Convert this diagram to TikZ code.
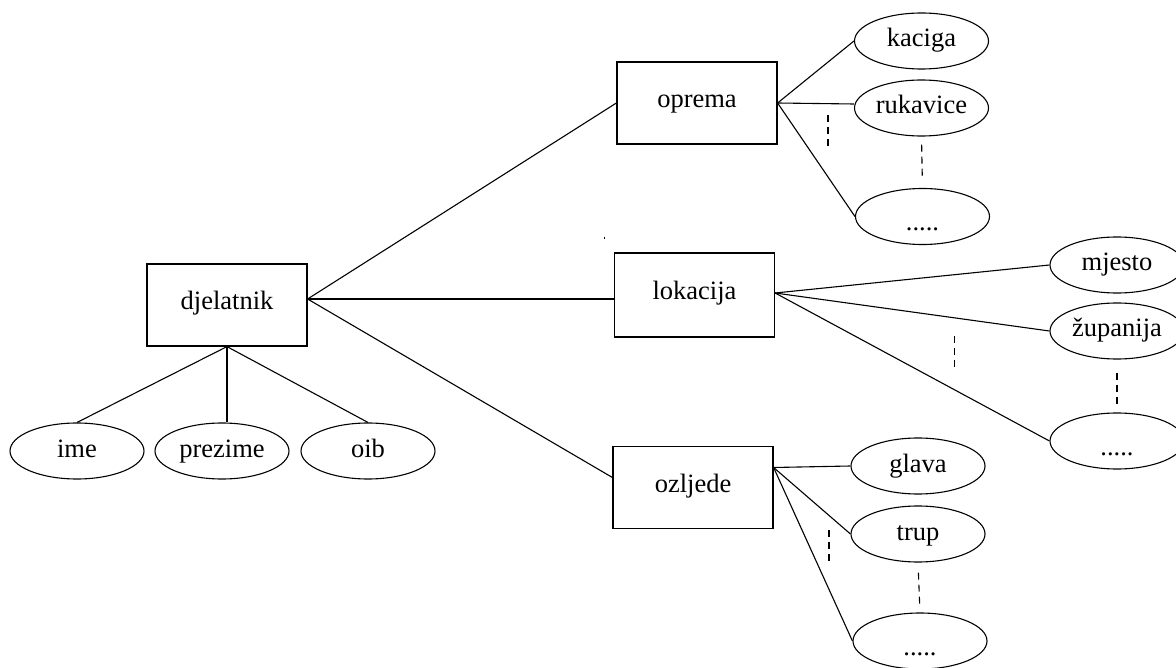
\documentclass[tikz,border=0pt]{standalone}
\usepackage{fontspec}
\setmainfont{Liberation Serif}
\usetikzlibrary{shapes.geometric}
\begin{document}
\begin{tikzpicture}[x=1pt,y=-1pt,
  every node/.style={font=\fontsize{26.5}{30}\selectfont},
  ent/.style={draw, line width=1.2pt, rectangle, minimum width=160pt, minimum height=82pt, inner sep=0pt, text height=18pt, text depth=8pt},
  attr/.style={draw, line width=1.1pt, ellipse, minimum width=134pt, minimum height=56pt, inner sep=0pt, text height=18pt, text depth=6pt},
  more/.style={attr, text height=30pt, text depth=2pt},
  link/.style={line width=1.1pt},
  gap/.style={line width=1.1pt, dash pattern=on 7pt off 5pt}]
\fill[white] (0,0) rectangle (1176,668);
\useasboundingbox (0,0) rectangle (1176,668);

% entities
\node[ent] (djelatnik) at (227,305) {djelatnik};
\node[ent] (oprema) at (697,103) {oprema};
\node[ent, minimum height=84pt] (lokacija) at (694.5,295) {lokacija};
\node[ent] (ozljede) at (693,487.5) {ozljede};

% attributes
\node[attr] (kaciga) at (921.5,41) {kaciga};
\node[attr] (rukavice) at (921.5,108) {rukavice};
\node[more] (dots1) at (922.5,216.5) {.....};
\node[attr] (mjesto) at (1117,265) {mjesto};
\node[attr] (zupanija) at (1117,331) {županija};
\node[more] (dots2) at (1117,441) {.....};
\node[attr] (glava) at (918,466) {glava};
\node[attr] (trup) at (918,534) {trup};
\node[more] (dots3) at (920,641) {.....};
\node[attr] (ime) at (77,451) {ime};
\node[attr] (prezime) at (222,451) {prezime};
\node[attr] (oib) at (368,451) {oib};

% connectors
\draw[link] ([yshift=6pt]djelatnik.east) -- (oprema.west);
\draw[link] ([yshift=6pt]djelatnik.east) -- ([yshift=-4pt]lokacija.west);
\draw[link] ([yshift=6pt]djelatnik.east) -- ([yshift=10pt]ozljede.west);

\draw[link] (djelatnik.south) -- (ime.north);
\draw[link] (djelatnik.south) -- (djelatnik.south |- prezime.north);
\draw[link] (djelatnik.south) -- (oib.north);

\draw[link] (oprema.east) -- (kaciga.west);
\draw[link] (oprema.east) -- ([yshift=4pt]rukavice.west);
\draw[link] (oprema.east) -- (dots1.west);

\draw[link] ([yshift=2pt]lokacija.east) -- (mjesto.west);
\draw[link] ([yshift=2pt]lokacija.east) -- (zupanija.west);
\draw[link] ([yshift=2pt]lokacija.east) -- (dots2.west);

\draw[link] ([yshift=20pt]ozljede.east) -- (glava.west);
\draw[link] ([yshift=20pt]ozljede.east) -- (trup.west);
\draw[link] ([yshift=20pt]ozljede.east) -- (dots3.west);

% dashed continuation marks
\coordinate (g1a) at (828,115);
\coordinate (g1b) at (828,147);
\draw[gap] (g1a) -- (g1b);
\draw[gap, shorten <=8pt, shorten >=10pt] (rukavice.south) -- (dots1.north);

\coordinate (g2a) at (954.5,336);
\coordinate (g2b) at (954.5,369);
\draw[gap] (g2a) -- (g2b);
\draw[gap, shorten <=13pt, shorten >=8pt] (zupanija.south) -- (dots2.north);

\coordinate (g3a) at (829,530);
\coordinate (g3b) at (829,564);
\draw[gap] (g3a) -- (g3b);
\draw[gap, shorten <=10pt, shorten >=8pt] (trup.south) -- (dots3.north);

% stray dot
\fill (603.5,237.5) rectangle (605,239.5);
\end{tikzpicture}
\end{document}
